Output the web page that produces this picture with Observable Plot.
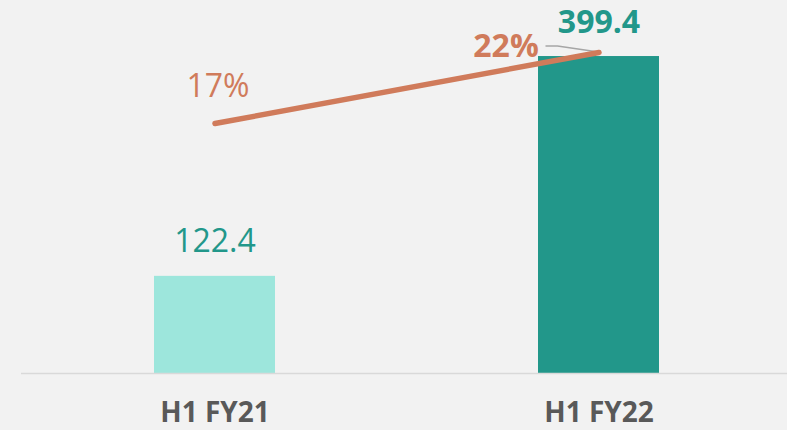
<!DOCTYPE html>
<html>
<head>
<meta charset="utf-8">
<script src="https://cdn.jsdelivr.net/npm/d3@7"></script>
<script src="https://cdn.jsdelivr.net/npm/@observablehq/plot@0.6"></script>
<style>
  html, body { margin: 0; padding: 0; background: #f2f2f2; }
  #chart { width: 787px; height: 430px; }
</style>
</head>
<body>
<div id="chart"></div>
<script>
// Data
const categories = ["H1 FY21", "H1 FY22"];
const values = [122.4, 399.4];
const margins = [17, 22];          // percent, secondary axis
const valueLabels = ["122.4", "399.4"];
const marginLabels = ["17%", "22%"];

// Colours
const barColors = ["#9de6dc", "#22978a"];
const labelColors = ["#22978a", "#22978a"];
const lineColor = "#d07b5b";

// Secondary axis (percent) mapped onto the primary value domain
const yDomain = [0, 470];
const pctDomain = [-0.6, 25.66];
const pctToValue = d3.scaleLinear().domain(pctDomain).range(yDomain);

const bars = categories.map((c, i) => ({cat: c, value: values[i], label: valueLabels[i], color: barColors[i], lc: labelColors[i], bold: i === 1}));
const pts = categories.map((c, i) => ({cat: c, pct: margins[i], v: pctToValue(margins[i]), label: marginLabels[i], bold: i === 1}));

// leader line from the "22%" label to its point
function leader(index, scales) {
  const p = pts[1];
  const sx = scales.x, sy = scales.y;
  let bw = sx.bandwidth;
  if (typeof bw === "function") bw = bw();
  if (!isFinite(bw)) bw = 0;
  const x = sx(p.cat) + bw / 2;
  const y = sy(p.v);
  const path = d3.path();
  path.moveTo(x - 53, y - 6);
  path.lineTo(x - 41, y - 6);
  path.lineTo(x, y);
  const g = d3.create("svg:path")
    .attr("d", path.toString())
    .attr("fill", "none")
    .attr("stroke", "#a6a6a6")
    .attr("stroke-width", 1.5);
  return g.node();
}

const plot = Plot.plot({
  width: 787,
  height: 430,
  marginTop: 0,
  marginBottom: 57,
  marginLeft: 21,
  marginRight: 0,
  style: {background: "#f2f2f2", fontFamily: "'Open Sans', sans-serif"},
  x: {domain: categories, paddingInner: 0.686, paddingOuter: 0.338, align: 0.51, label: null},
  y: {domain: yDomain, axis: null},
  marks: [
    Plot.barY(bars, {x: "cat", y: "value", fill: d => d.color}),
    Plot.ruleY([0], {stroke: "#d9d9d9", strokeWidth: 1.5}),
    Plot.axisX({tickSize: 0, tickPadding: 29, fontSize: 28, fontWeight: "bold", color: "#595959", label: null}),
    Plot.text(bars.filter(d => !d.bold), {x: "cat", y: "value", text: "label", fill: "lc", lineAnchor: "bottom", dy: -24, fontSize: 32}),
    Plot.text(bars.filter(d => d.bold), {x: "cat", y: "value", text: "label", fill: "lc", lineAnchor: "bottom", dy: -24, fontSize: 32, fontWeight: "bold"}),
    leader,
    Plot.line(pts, {x: "cat", y: "v", stroke: lineColor, strokeWidth: 5.5, strokeLinecap: "round"}),
    Plot.text(pts.filter(d => !d.bold), {x: "cat", y: "v", text: "label", fill: lineColor, lineAnchor: "bottom", dx: 3, dy: -27, fontSize: 32}),
    Plot.text(pts.filter(d => d.bold), {x: "cat", y: "v", text: "label", fill: lineColor, lineAnchor: "bottom", dx: -93, dy: 5, fontSize: 32, fontWeight: "bold"})
  ]
});
document.getElementById("chart").append(plot);
</script>
</body>
</html>
